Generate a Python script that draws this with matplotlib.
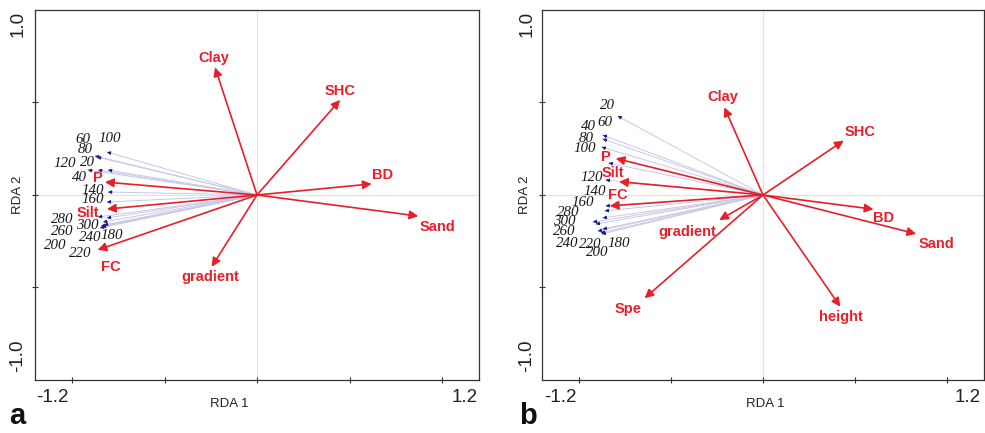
import matplotlib
matplotlib.use("Agg")
import matplotlib.pyplot as plt

# ---------------- data ----------------
# Panel a: environmental variables (RDA 1, RDA 2)
env_a_names = ["Clay", "SHC", "BD", "Sand", "gradient", "FC", "P", "Silt"]
env_a_x = [-0.227, 0.449, 0.620, 0.872, -0.245, -0.862, -0.822, -0.811]
env_a_y = [0.690, 0.514, 0.060, -0.114, -0.388, -0.297, 0.070, -0.076]

# Panel a: sites (heights)
site_names = ["20", "40", "60", "80", "100", "120", "140", "160",
              "180", "200", "220", "240", "260", "280", "300"]
site_a_x = [-0.805, -0.859, -0.876, -0.865, -0.811, -0.914, -0.805, -0.811,
            -0.827, -0.849, -0.843, -0.838, -0.832, -0.859, -0.811]
site_a_y = [0.135, 0.135, 0.211, 0.205, 0.232, 0.135, 0.016, -0.038,
            -0.162, -0.178, -0.168, -0.173, -0.146, -0.119, -0.124]

# Panel b: environmental variables
env_b_names = ["Clay", "SHC", "BD", "Sand", "gradient", "Spe", "height", "P", "Silt", "FC"]
env_b_x = [-0.210, 0.438, 0.600, 0.832, -0.238, -0.643, 0.420, -0.800, -0.782, -0.832]
env_b_y = [0.474, 0.294, -0.077, -0.210, -0.135, -0.558, -0.604, 0.198, 0.072, -0.059]

# Panel b: sites
site_b_x = [-0.789, -0.870, -0.870, -0.876, -0.838, -0.854, -0.854, -0.859,
            -0.870, -0.881, -0.870, -0.897, -0.876, -0.924, -0.908]
site_b_y = [0.427, 0.303, 0.324, 0.259, 0.173, 0.081, -0.059, -0.086,
            -0.124, -0.205, -0.184, -0.195, -0.211, -0.146, -0.157]

# ---------------- label placement (pixel offsets) ----------------
env_a_off = [(-1, 9), (0, 9), (11, 9), (19, -11), (-1, -10), (13, -17), (-7, 4), (-19, -4)]
site_a_off = [(-21, 8), (-19, -7), (-12, 16), (-12, 8), (3, 14), (-23, 7), (-15, 2), (-14, 3),
              (8, -11), (-45, -18), (-21, -27), (-12, -10), (-41, -9), (-36, -2), (-20, -8)]
env_b_off = [(-2, 10), (16, 9), (10, -9), (20, -10), (-32, -12), (-16, -11), (1, -10),
             (-10, 1), (-6, 9), (8, 11)]
site_b_off = [(-10, 11), (-14, 12), (2, 13), (-15, 9), (-24, 14), (-14, 3), (-11, 14), (-22, 8),
              (16, -26), (-4, -20), (-13, -15), (-31, -12), (-37, 3), (-25, 10), (-32, 3)]

RED = "#e5202b"
NAVY = "#1c1c8a"
LAV = "#c7c9e6"

W, H = 985, 433
fig = plt.figure(figsize=(W / 100, H / 100), dpi=100)


def px_axes(l, t, r, b):
    return fig.add_axes([l / W, 1 - b / H, (r - l) / W, (b - t) / H])


def draw_panel(ax, ex, ey, enames, eoff, sx, sy, soff):
    ax.set_xlim(-1.2, 1.2)
    ax.set_ylim(-1.0, 1.0)
    ax.axhline(0, color="#e2e2e2", lw=0.8, zorder=0)
    ax.axvline(0, color="#e2e2e2", lw=0.8, zorder=0)
    # sites
    for x, y, name, off in zip(sx, sy, site_names, soff):
        ax.plot([0, x], [0, y], color=LAV, lw=0.7, zorder=1)
        ax.annotate("", xy=(x, y), xytext=(x * 0.975, y * 0.975),
                    arrowprops=dict(arrowstyle="-|>", color=NAVY, lw=0.6,
                                    mutation_scale=5, shrinkA=0, shrinkB=0), zorder=2)
        ax.annotate(name, xy=(x, y), xytext=off, textcoords="offset pixels",
                    ha="center", va="center", fontsize=10.8, fontstyle="italic",
                    family="Liberation Serif", color="#1a1a1a", zorder=3)
    # environmental arrows
    for x, y, name, off in zip(ex, ey, enames, eoff):
        ax.annotate("", xy=(x, y), xytext=(0, 0),
                    arrowprops=dict(arrowstyle="-|>", color=RED, lw=1.2,
                                    mutation_scale=13, shrinkA=0, shrinkB=0), zorder=4)
        ax.annotate(name, xy=(x, y), xytext=off, textcoords="offset pixels",
                    ha="center", va="center", fontsize=10.5, fontweight="bold",
                    family="Liberation Sans", color=RED, zorder=5)
    ax.set_xticks([-1.0, -0.5, 0, 0.5, 1.0])
    ax.set_yticks([-0.5, 0, 0.5])
    ax.set_xticklabels([])
    ax.set_yticklabels([])
    ax.tick_params(direction="inout", length=5, width=0.8, colors="#333333")
    for s in ax.spines.values():
        s.set_linewidth(0.9)
        s.set_color("#333333")


axa = px_axes(35, 10, 479, 380)
draw_panel(axa, env_a_x, env_a_y, env_a_names, env_a_off, site_a_x, site_a_y, site_a_off)
axb = px_axes(542, 10, 984, 380)
draw_panel(axb, env_b_x, env_b_y, env_b_names, env_b_off, site_b_x, site_b_y, site_b_off)


def ftext(x, y, s, **kw):
    fig.text(x / W, 1 - y / H, s, **kw)


tick_kw = dict(fontsize=13.5, family="Liberation Sans", color="#222222", ha="center", va="center")
lab_kw = dict(fontsize=9.5, family="Liberation Sans", color="#222222", ha="center", va="center")

# panel a texts
ftext(18, 24, "1.0", rotation=90, **tick_kw)
ftext(18, 356, "-1.0", rotation=90, **tick_kw)
ftext(52, 397, "-1.2", **tick_kw)
ftext(465, 397, "1.2", **tick_kw)
ftext(229, 404, "RDA 1", **lab_kw)
ftext(18, 195, "RDA 2", rotation=90, **lab_kw)
ftext(17, 416, "a", fontsize=21, fontweight="bold", family="Liberation Sans",
      ha="center", va="center", color="#111111")

# panel b texts
ftext(527, 24, "1.0", rotation=90, **tick_kw)
ftext(527, 356, "-1.0", rotation=90, **tick_kw)
ftext(560, 397, "-1.2", **tick_kw)
ftext(968, 397, "1.2", **tick_kw)
ftext(765, 404, "RDA 1", **lab_kw)
ftext(525, 195, "RDA 2", rotation=90, **lab_kw)
ftext(528, 416, "b", fontsize=21, fontweight="bold", family="Liberation Sans",
      ha="center", va="center", color="#111111")

fig.savefig("out.png", dpi=100)
